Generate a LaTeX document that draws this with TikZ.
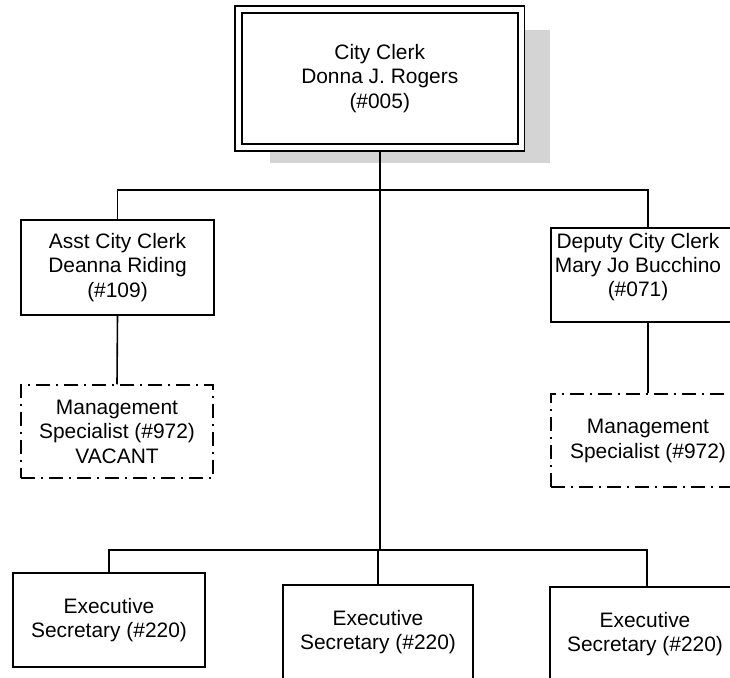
\documentclass[tikz,border=0pt]{standalone}
\usepackage{fontspec}
\setmainfont{Liberation Sans}
\usetikzlibrary{backgrounds}
\begin{document}
\begin{tikzpicture}[x=1bp,y=-1bp,
  every node/.style={align=center,inner sep=0pt,
    font=\fontsize{21}{24.5}\selectfont},
  post/.style={draw,line width=1.6bp,fill=white,minimum width=#1,minimum height=94bp},
  vacant/.style={draw,line width=1.5bp,fill=white,minimum width=#1,minimum height=93bp,
    dash pattern=on 14bp off 6bp on 2bp off 6bp},
  chief/.style={draw,line width=1.8bp,double=white,double distance=5bp,fill=white,
    minimum width=282.5bp,minimum height=138bp},
  link/.style={line width=1.6bp},
  shadow/.style={fill=black!17,draw=none}]
\useasboundingbox (0,0) rectangle (730,678);
\clip (0,0) rectangle (730,678);

% head of office
\node[chief] (clerk) at (379.75,78.5) {City Clerk\\Donna J. Rogers\\(\#005)};

% second tier
\node[post=193bp,minimum height=95bp] (asst) at (117.5,267.5)
  {Asst City Clerk\\Deanna Riding\\(\#109)};
\node[post=194bp] (deputy) at (648,275) {};
\node (deputytext) at (638,267) {Deputy City Clerk\\Mary Jo Bucchino\\(\#071)};

% management specialists
\node[vacant=192bp] (mgmtA) at (117,431.5) {Management\\Specialist (\#972)\\VACANT};
\node[vacant=194bp] (mgmtB) at (648,440.5) {};
\node (mgmtBtext) at (648,441) {Management\\Specialist (\#972)};

% executive secretaries
\node[post=192bp] (secA) at (109,620) {Executive\\Secretary (\#220)};
\node[post=190bp] (secB) at (378,632) {Executive\\Secretary (\#220)};
\node[post=194bp] (secC) at (647,634) {};
\node (secCtext) at (645,634) {Executive\\Secretary (\#220)};

% bus lines
\coordinate (busTop) at (0,190);
\coordinate (busLow) at (0,550);

\begin{pgfonlayer}{background}
  % drop shadow behind the head box
  \fill[shadow] (270,30) rectangle (550,163);
  % connectors
  \draw[link] (asst.north) -- (asst.north |- busTop) -- (deputy.north |- busTop) -- (deputy.north);
  \draw[link] (clerk.south) -- (clerk.south |- busLow);
  \draw[link] (secA.north) -- (secA.north |- busLow) -- (secC.north |- busLow) -- (secC.north);
  \draw[link] (secB.north) -- (secB.north |- busLow);
  \draw[link] (asst.south) -- (mgmtA.north);
  \draw[link] (deputy.south) -- (mgmtB.north);
\end{pgfonlayer}
\end{tikzpicture}
\end{document}
